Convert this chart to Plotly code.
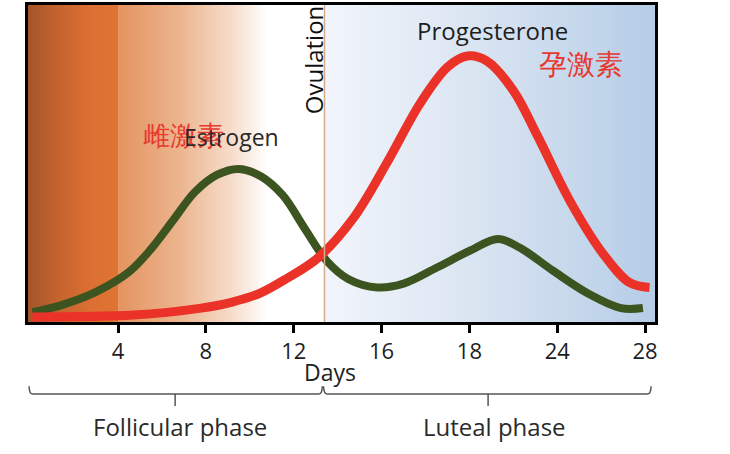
import plotly.graph_objects as go

# ---- data ----
estrogen_days = [0.1, 1.5, 3.0, 4.5, 5.5, 6.5, 7.5, 8.5, 9.5, 10.5, 11.5, 12.5,
                 13.5, 14.5, 15.8, 17.0, 18.5, 20.0, 21.3, 22.3, 23.8, 25.4, 26.9, 27.9]
estrogen = [3.1, 5.5, 9.5, 15.8, 23.0, 32.0, 41.0, 46.4, 48.3, 46.0, 40.0, 29.5,
            19.3, 13.5, 10.9, 12.1, 17.1, 22.4, 26.2, 23.4, 16.2, 9.0, 4.4, 4.4]

progesterone_days = [0.1, 4.7, 7.7, 9.2, 10.5, 11.7, 13.1, 14.7, 16.25, 17.75, 19.0, 19.9,
                     20.8, 22.0, 23.1, 24.6, 26.1, 27.3, 28.2]
progesterone = [1.6, 2.2, 4.3, 6.3, 9.2, 13.8, 20.2, 32.6, 50.3, 68.9, 80.4, 83.9,
                82.3, 73.0, 58.7, 37.9, 21.4, 12.4, 10.9]

tick_vals = [4, 8, 12, 16, 20, 24, 28]
tick_text = ["4", "8", "12", "16", "18", "24", "28"]

ovulation_day = 13.4
x_range = [-0.1, 28.45]
y_range = [0, 100]

FONT = "Open Sans"

fig = go.Figure()

# ---- background gradient bands ----
def band(x0, x1, scale):
    fig.add_trace(go.Scatter(
        x=[x0, x1, x1, x0, x0], y=[0, 0, 100, 100, 0],
        mode="lines", line=dict(width=0), fill="toself",
        fillgradient=dict(type="horizontal", colorscale=scale),
        hoverinfo="skip", showlegend=False))

band(x_range[0], 4.0, [[0, "#a4552a"], [0.35, "#c6642e"], [0.7, "#dc7032"], [1, "#e07433"]])
band(4.0, ovulation_day, [[0, "#e4935f"], [0.3, "#ecb58f"], [0.55, "#f6dccb"],
                          [0.68, "#fdf6f2"], [0.72, "#ffffff"], [1, "#ffffff"]])
band(ovulation_day, x_range[1], [[0, "#f2f5fb"], [0.45, "#dae5f2"], [0.85, "#c0d4ea"],
                                 [1, "#b4cce6"]])

# ---- hormone curves ----
fig.add_trace(go.Scatter(x=estrogen_days, y=estrogen, mode="lines",
                         line=dict(color="#3b5420", width=8, shape="spline", smoothing=1.0),
                         hoverinfo="skip", showlegend=False))
fig.add_trace(go.Scatter(x=progesterone_days, y=progesterone, mode="lines",
                         line=dict(color="#eb3228", width=9, shape="spline", smoothing=1.0),
                         hoverinfo="skip", showlegend=False))

# ---- ovulation line ----
fig.add_shape(type="line", xref="x", yref="paper", x0=ovulation_day, x1=ovulation_day,
              y0=0, y1=1, line=dict(color="#d6ab88", width=1.5))

# ---- brackets under the axis ----
yt, yl, yd = -0.2025, -0.2274, -0.2648
bc = "#555555"
def bracket(a, b, mid):
    r = 0.18
    path = (f"M {a},{yt} Q {a},{yl} {a + r},{yl} L {b - r},{yl} Q {b},{yl} {b},{yt}")
    fig.add_shape(type="path", xref="x", yref="paper", path=path,
                  line=dict(color=bc, width=1.5))
    fig.add_shape(type="line", xref="x", yref="paper", x0=mid, x1=mid, y0=yl, y1=yd,
                  line=dict(color=bc, width=1.5))

bracket(-0.05, 13.3, 6.6)
bracket(13.36, 28.27, 20.85)

# ---- annotations ----
def note(text, x, y, size, color, yref="y", angle=0):
    fig.add_annotation(text=text, x=x, y=y, xref="x", yref=yref, showarrow=False,
                       textangle=angle, xanchor="center", yanchor="middle",
                       font=dict(family=FONT, size=size, color=color))

note("Ovulation", 12.88, 82.6, 24, "#111111", angle=-90)
note("Progesterone", 21.07, 91.9, 24, "#1e1e1e")
note("孕激素", 25.1, 81.6, 28, "#e8392e")
note("雌激素", 6.96, 59.2, 27, "#e8392e")
note("Estrogen", 9.15, 58.3, 23, "#2a2a2a")
note("Days", 13.65, -0.159, 23, "#222222", yref="paper")
note("Follicular phase", 6.82, -0.330, 24, "#2a2a2a", yref="paper")
note("Luteal phase", 21.12, -0.330, 24, "#2a2a2a", yref="paper")

fig.update_layout(
    width=730, height=454,
    margin=dict(l=28, r=75, t=2, b=132),
    paper_bgcolor="white", plot_bgcolor="white",
    showlegend=False,
    xaxis=dict(range=x_range, tickvals=tick_vals, ticktext=tick_text,
               showgrid=False, zeroline=False, showline=True, linecolor="black",
               linewidth=3, mirror=True, ticks="outside", ticklen=8, tickwidth=2.5,
               tickcolor="black", tickfont=dict(family=FONT, size=22, color="#1e1e1e")),
    yaxis=dict(range=y_range, showgrid=False, zeroline=False, showline=True,
               linecolor="black", linewidth=3, mirror=True, showticklabels=False,
               ticks=""),
)

fig.write_html("out.html", config={"displayModeBar": False},
               post_script="document.body.style.margin='0';")
